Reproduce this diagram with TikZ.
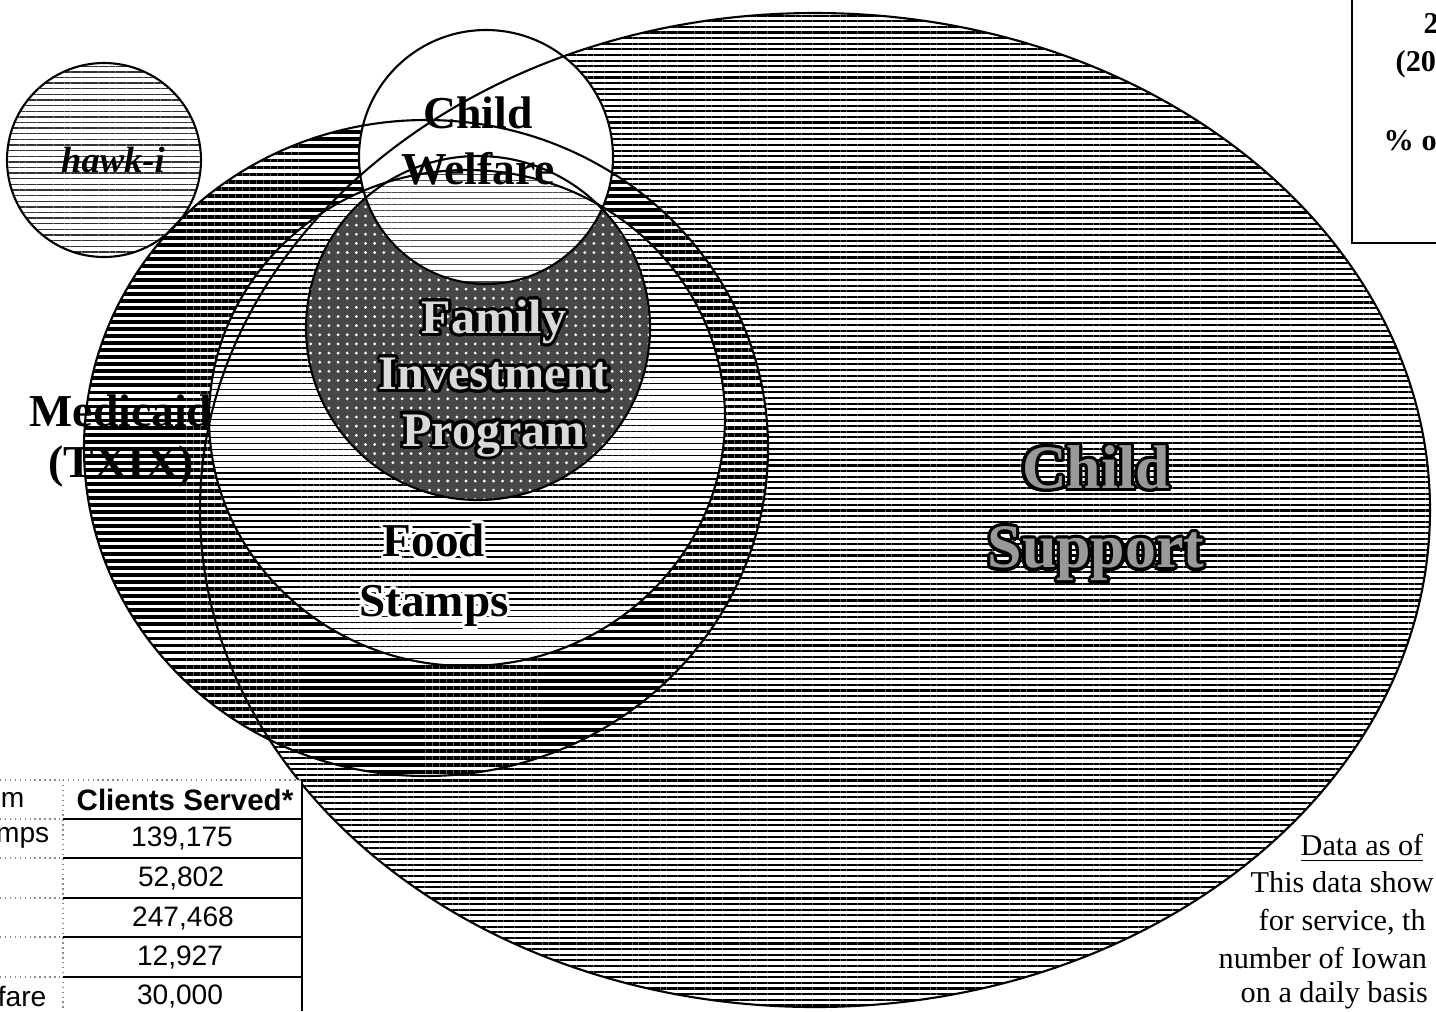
\documentclass[tikz,border=0pt]{standalone}
\usepackage{fontspec}
\setmainfont{Liberation Serif}
\setsansfont{Liberation Sans}
\usepackage{contour}
\usetikzlibrary{patterns.meta}
\contourlength{0.9pt}

\begin{document}
\begin{tikzpicture}[x=0.1mm,y=-0.1mm,
    outline/.style={draw=black,line width=0.6pt},
    supportfill/.style={pattern={Lines[angle=0,distance=1.6pt,line width=0.6pt]},pattern color=black},
    medicaidfill/.style={pattern={Lines[angle=0,distance=2pt,line width=1.1pt]},pattern color=black},
    stampsfill/.style={pattern={Lines[angle=0,distance=1.7pt,line width=0.45pt]},pattern color=black},
    hawkfill/.style={pattern={Lines[angle=0,distance=1.6pt,line width=0.4pt]},pattern color=black!80},
    welfarefill/.style={pattern={Lines[angle=0,distance=1.7pt,line width=0.35pt]},pattern color=black!70},
    fipfill/.style={pattern={Dots[distance=2.6pt,radius=0.45pt]},pattern color=white},
    label/.style={font=\bfseries,align=center},
    cell/.style={font=\sffamily\fontsize{8}{9}\selectfont},
    gridline/.style={densely dotted,black!45,line width=0.4pt},
    note/.style={font=\fontsize{8.6}{10}\selectfont,anchor=base west,inner sep=0pt},
    boxtext/.style={font=\bfseries\fontsize{8.6}{10}\selectfont,anchor=base west,inner sep=0pt}
  ]
    \useasboundingbox (0,0) rectangle (1436,1011);
    \clip (0,0) rectangle (1436,1011);
    \fill[white] (0,0) rectangle (1436,1011);

    % Child Support (large ellipse, drawn first)
    \fill[white] (815,510) ellipse [x radius=61.5mm, y radius=49.7mm];
    \fill[supportfill] (815,510) ellipse [x radius=61.5mm, y radius=49.7mm];

    % Medicaid
    \fill[white] (426,448) ellipse [x radius=34.2mm, y radius=32.8mm];
    \fill[medicaidfill] (426,448) ellipse [x radius=34.2mm, y radius=32.8mm];

    % Food Stamps
    \fill[white] (467,418) ellipse [x radius=25.8mm, y radius=24.8mm];
    \fill[stampsfill] (467,418) ellipse [x radius=25.8mm, y radius=24.8mm];

    % Family Investment Program
    \fill[black!72] (478,328) circle [radius=17.2mm];
    \fill[fipfill] (478,328) circle [radius=17.2mm];

    % Child Welfare (light circle on top)
    \begin{scope}
      \clip (486,157) circle [radius=12.7mm];
      \fill[white] (486,157) circle [radius=12.7mm];
      \clip (467,418) ellipse [x radius=25.8mm, y radius=24.8mm];
      \fill[welfarefill] (486,157) circle [radius=12.7mm];
    \end{scope}

    % hawk-i
    \fill[white] (104,160) circle [radius=9.7mm];
    \fill[hawkfill] (104,160) circle [radius=9.7mm];

    % Outlines on top of all fills
    \draw[outline] (815,510) ellipse [x radius=61.5mm, y radius=49.7mm];
    \draw[outline] (426,448) ellipse [x radius=34.2mm, y radius=32.8mm];
    \draw[outline] (467,418) ellipse [x radius=25.8mm, y radius=24.8mm];
    \draw[outline] (478,328) circle [radius=17.2mm];
    \draw[outline] (486,157) circle [radius=12.7mm];
    \draw[outline] (104,160) circle [radius=9.7mm];

    % Labels
    \node[label,font=\bfseries\itshape\fontsize{10.4}{12}\selectfont] (hawk) at (113,160) {hawk-i};
    \node[label,font=\bfseries\fontsize{13}{16.2}\selectfont] (welfare) at (478,141) {Child\\Welfare};
    \node[label,font=\bfseries\fontsize{13}{14.5}\selectfont] (medicaid) at (121,441) {Medicaid\\(TXIX)};
    \node[label,font=\bfseries\fontsize{13.7}{16}\selectfont] (fip) at (494,380)
      {\contour{black}{\textcolor{black!15}{Family}}\\\contour{black}{\textcolor{black!15}{Investment}}\\\contour{black}{\textcolor{black!15}{Program}}};
    \node[label,font=\bfseries\fontsize{13.4}{17}\selectfont] (stamps) at (434,577)
      {\contour{white}{Food}\\\contour{white}{Stamps}};
    \node[label,font=\bfseries\fontsize{17.6}{22.5}\selectfont] (support) at (1096,515)
      {\contour{black}{\textcolor{black!40}{Child}}\\\contour{black}{\textcolor{black!40}{Support}}};

    % Clients table, cut off at the left edge
    \fill[white] (0,780) rectangle (302,1011);
    \foreach \y in {780,819,858,898,937,977}
      \draw[gridline] (0,\y) -- (63,\y);
    \draw[gridline] (63,780) -- (302,780);
    \draw[gridline] (63,780) -- (63,1011);
    \foreach \y in {819,858,898,937,977}
      \draw[line width=0.5pt] (63,\y) -- (302,\y);
    \draw[line width=0.6pt] (302,780) -- (302,1011);
    \node[cell,anchor=east,inner sep=0pt] (progHead) at (25,800) {m};
    \node[cell,anchor=east,inner sep=0pt] (progStamps) at (50,838) {mps};
    \node[cell,anchor=east,inner sep=0pt] (progWelfare) at (47,996) {fare};
    \node[cell,font=\sffamily\bfseries\fontsize{8.4}{9}\selectfont] (clientsHead) at (185,800) {Clients Served*};
    \node[cell] (nStamps) at (182,838) {139,175};
    \node[cell] (nFip) at (181,878) {52,802};
    \node[cell] (nMedicaid) at (183,918) {247,468};
    \node[cell] (nHawk) at (180,957) {12,927};
    \node[cell] (nWelfare) at (180,996) {30,000};

    % Title box, top right
    \draw[line width=0.6pt] (1352,0) -- (1352,243) -- (1436,243);
    \node[boxtext] (boxA) at (1423,33) {2};
    \node[boxtext] (boxB) at (1395,71) {(20};
    \node[boxtext] (boxC) at (1383,150) {\% o};

    % Note, bottom right
    \node[note] (noteA) at (1300,855) {\underline{Data as of}};
    \node[note] (noteB) at (1250,892) {This data show};
    \node[note] (noteC) at (1258,930) {for service, th};
    \node[note] (noteD) at (1218,968) {number of Iowan};
    \node[note] (noteE) at (1240,1002) {on a daily basis};
  \end{tikzpicture}
\end{document}
